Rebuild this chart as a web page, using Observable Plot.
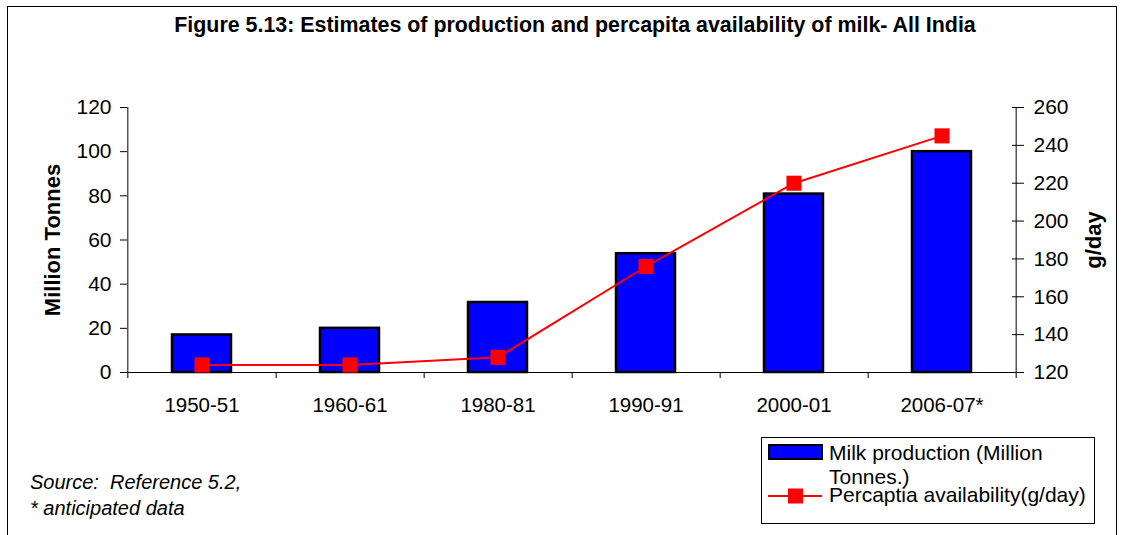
<!DOCTYPE html>
<html>
<head>
<meta charset="utf-8">
<script src="https://cdn.jsdelivr.net/npm/d3@7"></script>
<script src="https://cdn.jsdelivr.net/npm/@observablehq/plot@0.6"></script>
<style>
  html, body { margin: 0; padding: 0; background: #fff; }
  #wrap { position: relative; width: 1125px; height: 535px; overflow: hidden; font-family: "Liberation Sans", Arial, sans-serif; color: #000; }
  #border { position: absolute; left: 7px; top: 6px; width: 1110px; height: 600px; border: 1px solid #000; box-sizing: border-box; }
  #title { position: absolute; left: 0; width: 1150px; top: 12px; text-align: center; font-weight: bold; font-size: 21.4px; line-height: 26px; white-space: nowrap; }
  #chart { position: absolute; left: 0; top: 0; }
  #source { position: absolute; left: 30px; top: 469px; font-style: italic; font-size: 20px; line-height: 26px; white-space: nowrap; }
  #legend { position: absolute; left: 761px; top: 437px; width: 334px; height: 87px; border: 1px solid #000; box-sizing: border-box; font-size: 21px; }
  .row { position: absolute; left: 6px; }
  .lbl { position: absolute; left: 67px; white-space: nowrap; line-height: 24px; }
</style>
</head>
<body>
<div id="wrap">
  <div id="border"></div>
  <div id="title">Figure 5.13: Estimates of production and percapita availability of milk- All India</div>
  <div id="chart"></div>
  <div id="source">Source:&nbsp; Reference 5.2,<br>* anticipated data</div>
  <div id="legend">
    <svg class="row" style="top:6px" width="56" height="16"><rect x="1" y="1" width="53" height="14" fill="#0000FF" stroke="#000" stroke-width="2"/></svg>
    <div class="lbl" style="top:3px">Milk production (Million<br>Tonnes.)</div>
    <svg class="row" style="top:49px" width="56" height="18"><line x1="0" y1="9" x2="54" y2="9" stroke="#FF0000" stroke-width="2"/><rect x="20" y="1.5" width="15" height="15" fill="#FF0000"/></svg>
    <div class="lbl" style="top:45px">Percaptia availability(g/day)</div>
  </div>
</div>
<script>
const categories = ["1950-51", "1960-61", "1980-81", "1990-91", "2000-01", "2006-07*"];
const production = [17, 20, 31.7, 53.8, 80.8, 100];      // Million Tonnes
const perCapita = [124, 124, 128, 176, 220, 245];        // g/day
const leftTicks = [0, 20, 40, 60, 80, 100, 120];
const rightTicks = [120, 140, 160, 180, 200, 220, 240, 260];

// map right-axis (g/day) values onto the left scale domain
const rMin = 120, rMax = 260, lMax = 120;
const toLeft = v => (v - rMin) * lMax / (rMax - rMin);
const fromLeft = d => Math.round(d * (rMax - rMin) / lMax + rMin);

const data = categories.map((c, i) => ({cat: c, prod: production[i], pc: perCapita[i]}));
const half = 890 / 6 / 2;
const font = "Liberation Sans, Arial, sans-serif";

const chart = Plot.plot({
  width: 1125,
  height: 420,
  marginLeft: 127,
  marginRight: 108,
  marginTop: 107,
  marginBottom: 48,
  style: {fontFamily: font, fontSize: "21px", background: "transparent", color: "#000"},
  x: {type: "band", domain: categories, paddingInner: 0.6, paddingOuter: 0.3},
  y: {domain: [0, lMax]},
  marks: [
    Plot.barY(data, {x: "cat", y: "prod", fill: "#0000FF", stroke: "#000", strokeWidth: 2.5}),
    Plot.ruleY([0], {stroke: "#000", strokeWidth: 1}),
    Plot.ruleX(categories.slice(0, 1), {x: d => d, dx: -half, y1: 0, y2: lMax, stroke: "#000"}),
    Plot.ruleX(categories.slice(-1), {x: d => d, dx: half, y1: 0, y2: lMax, stroke: "#000"}),
    Plot.line(data, {x: "cat", y: d => toLeft(d.pc), stroke: "#FF0000", strokeWidth: 2}),
    Plot.dot(data, {x: "cat", y: d => toLeft(d.pc), symbol: "square", r: 8.5, fill: "#FF0000", stroke: "none"}),
    Plot.axisY({anchor: "left", ticks: leftTicks, tickSize: 7, tickPadding: 9, label: null, fontSize: 21}),
    Plot.axisY({anchor: "right", ticks: rightTicks.map(toLeft), tickFormat: fromLeft, tickSize: 12, dx: -6, tickPadding: 10, label: null, fontSize: 21}),
    Plot.axisX({anchor: "bottom", ticks: categories, tickSize: 0, tickPadding: 25, label: null, fontSize: 20.5}),
    Plot.axisX({anchor: "bottom", ticks: categories, tickSize: 6, tickFormat: () => "", dx: half, label: null}),
    Plot.axisX({anchor: "bottom", ticks: categories.slice(0, 1), tickSize: 6, tickFormat: () => "", dx: -half, label: null}),
    Plot.text(["Million Tonnes"], {frameAnchor: "left", dx: -75, rotate: -90, textAnchor: "middle", text: d => d, fontWeight: "bold", fontSize: 22}),
    Plot.text(["g/day"], {frameAnchor: "right", dx: 76, rotate: -90, textAnchor: "middle", text: d => d, fontWeight: "bold", fontSize: 22})
  ]
});
document.getElementById("chart").appendChild(chart);
</script>
</body>
</html>
